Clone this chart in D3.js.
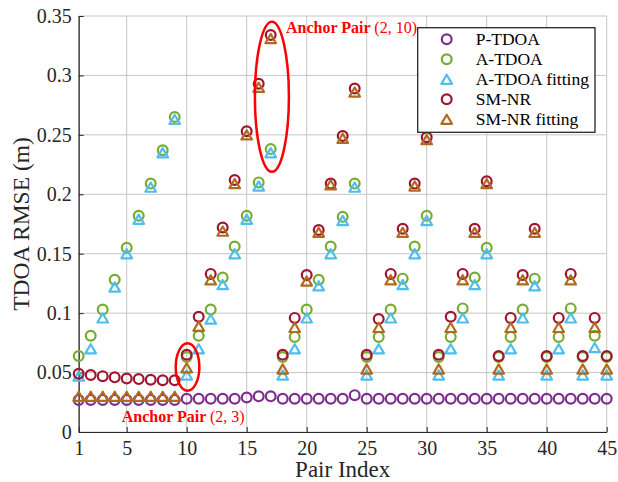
<!DOCTYPE html>
<html>
<head>
<meta charset="utf-8">
<script src="https://cdn.jsdelivr.net/npm/d3@7/dist/d3.min.js"></script>
<style>
  html, body { margin: 0; padding: 0; background: #fff; }
  svg { display: block; }
</style>
</head>
<body>
<svg id="chart" width="618" height="482"></svg>
<script>
// Pair index 1..45 (anchor pairs (1,2), (1,3), ..., (9,10))
const pairIndex = d3.range(1, 46);

const pTdoa = [
  0.027, 0.027, 0.027, 0.027, 0.027, 0.027, 0.027, 0.027, 0.027,
  0.028, 0.028, 0.028, 0.028, 0.028, 0.029, 0.030, 0.030,
  0.028, 0.028, 0.028, 0.028, 0.028, 0.028, 0.031,
  0.028, 0.028, 0.028, 0.028, 0.028, 0.028,
  0.028, 0.028, 0.028, 0.028, 0.028,
  0.028, 0.028, 0.028, 0.028,
  0.028, 0.028, 0.028,
  0.028, 0.028,
  0.028
];

const aTdoa = [
  0.064, 0.081, 0.103, 0.128, 0.155, 0.182, 0.209, 0.237, 0.265,
  0.063, 0.081, 0.103, 0.130, 0.156, 0.182, 0.210, 0.238,
  0.063, 0.080, 0.103, 0.128, 0.156, 0.181, 0.209,
  0.063, 0.080, 0.103, 0.129, 0.156, 0.182,
  0.063, 0.080, 0.104, 0.130, 0.155,
  0.063, 0.080, 0.103, 0.129,
  0.063, 0.080, 0.104,
  0.063, 0.081,
  0.063
];

const aTdoaFit = [
  0.047, 0.070, 0.096, 0.122, 0.150, 0.179, 0.206, 0.235, 0.263,
  0.048, 0.070, 0.095, 0.124, 0.150, 0.179, 0.207, 0.235,
  0.048, 0.070, 0.096, 0.123, 0.150, 0.178, 0.206,
  0.048, 0.070, 0.096, 0.124, 0.150, 0.178,
  0.048, 0.070, 0.096, 0.124, 0.150,
  0.048, 0.070, 0.096, 0.123,
  0.048, 0.070, 0.096,
  0.048, 0.071,
  0.048
];

const smNr = [
  0.049, 0.048, 0.047, 0.046, 0.045, 0.0445, 0.044, 0.0435, 0.0435,
  0.065, 0.097, 0.133, 0.172, 0.212, 0.253, 0.293, 0.334,
  0.065, 0.096, 0.132, 0.170, 0.209, 0.249, 0.289,
  0.065, 0.095, 0.133, 0.171, 0.209, 0.248,
  0.065, 0.097, 0.133, 0.171, 0.211,
  0.064, 0.096, 0.132, 0.171,
  0.064, 0.096, 0.133,
  0.064, 0.096,
  0.064
];

const smNrFit = [
  0.030, 0.030, 0.030, 0.030, 0.030, 0.030, 0.030, 0.030, 0.030,
  0.054, 0.089, 0.128, 0.169, 0.209, 0.250, 0.290, 0.331,
  0.053, 0.088, 0.127, 0.168, 0.208, 0.247, 0.286,
  0.053, 0.088, 0.128, 0.168, 0.207, 0.246,
  0.053, 0.088, 0.128, 0.168, 0.209,
  0.053, 0.088, 0.128, 0.168,
  0.053, 0.088, 0.128,
  0.053, 0.088,
  0.053
];

const xTicks = [1, 5, 10, 15, 20, 25, 30, 35, 40, 45];
const yTicks = [0, 0.05, 0.1, 0.15, 0.2, 0.25, 0.3, 0.35];
const yTickLabels = ["0", "0.05", "0.1", "0.15", "0.2", "0.25", "0.3", "0.35"];

const seriesNames = ["P-TDOA", "A-TDOA", "A-TDOA fitting", "SM-NR", "SM-NR fitting"];
const seriesColors = ["#7E2F8E", "#77AC30", "#4DBEEE", "#A2142F", "#B06A1E"];
const seriesShapes = ["circle", "circle", "triangle", "circle", "triangle"];
const seriesValues = [pTdoa, aTdoa, aTdoaFit, smNr, smNrFit];

const serif = "'Liberation Serif', Tinos, 'Nimbus Roman', 'Times New Roman', Times, 'DejaVu Serif', serif";

// ---- layout ----
const svg = d3.select("#chart");
const plotLeft = 78.7, plotRight = 606.7, plotTop = 16, plotBottom = 432;

const x = d3.scaleLinear().domain([1, 45]).range([plotLeft, plotRight]);
const y = d3.scaleLinear().domain([0, 0.35]).range([plotBottom, plotTop]);

svg.append("rect").attr("width", 618).attr("height", 482).attr("fill", "#fff");

// grid
const grid = svg.append("g").attr("stroke", "#c6c6c6").attr("stroke-width", 1);
grid.selectAll("line.gx").data(xTicks).join("line")
  .attr("class", "gx")
  .attr("x1", d => x(d)).attr("x2", d => x(d))
  .attr("y1", plotTop).attr("y2", plotBottom);
grid.selectAll("line.gy").data(yTicks).join("line")
  .attr("class", "gy")
  .attr("x1", plotLeft).attr("x2", plotRight)
  .attr("y1", d => y(d)).attr("y2", d => y(d));

// axes
const axisColor = "#262626";
const xAxis = svg.append("g")
  .attr("transform", `translate(0,${plotBottom})`)
  .call(d3.axisBottom(x).tickValues(xTicks).tickFormat(d3.format("d"))
    .tickSizeInner(-5).tickSizeOuter(0).tickPadding(8.5));
const yAxis = svg.append("g")
  .attr("transform", `translate(${plotLeft},0)`)
  .call(d3.axisLeft(y).tickValues(yTicks).tickFormat((d, i) => yTickLabels[i])
    .tickSizeInner(-5).tickSizeOuter(0).tickPadding(7));
[xAxis, yAxis].forEach(g => {
  g.attr("font-family", serif).attr("font-size", 20);
  g.select(".domain").attr("stroke", axisColor).attr("stroke-width", 1.2);
  g.selectAll(".tick line").attr("stroke", axisColor).attr("stroke-width", 1);
  g.selectAll(".tick text").attr("fill", "#262626");
});

// axis titles
svg.append("text")
  .attr("x", (plotLeft + plotRight) / 2).attr("y", 477)
  .attr("text-anchor", "middle")
  .attr("fill", "#262626")
  .attr("font-family", serif).attr("font-size", 23)
  .text("Pair Index");
svg.append("text")
  .attr("transform", `translate(29,${(plotTop + plotBottom) / 2}) rotate(-90)`)
  .attr("text-anchor", "middle")
  .attr("fill", "#262626")
  .attr("font-family", serif).attr("font-size", 23.5)
  .text("TDOA RMSE (m)");

// markers
const markerR = 4.9;
const triW = 10.6, triH = 9.2;
function triPath(cx, cy) {
  return `M${cx},${cy - triH / 2}L${cx + triW / 2},${cy + triH / 2}L${cx - triW / 2},${cy + triH / 2}Z`;
}

seriesValues.forEach((vals, s) => {
  const g = svg.append("g")
    .attr("fill", "none")
    .attr("stroke", seriesColors[s])
    .attr("stroke-width", 2.2)
    .attr("stroke-linejoin", "round");
  const pts = pairIndex.map((p, i) => ({ p, v: vals[i] }));
  if (seriesShapes[s] === "circle") {
    g.selectAll("circle").data(pts).join("circle")
      .attr("cx", d => x(d.p)).attr("cy", d => y(d.v)).attr("r", markerR);
  } else {
    g.selectAll("path").data(pts).join("path")
      .attr("d", d => triPath(x(d.p), y(d.v)));
  }
});

// annotations
const ann = svg.append("g");
ann.append("ellipse")
  .attr("cx", x(17.1)).attr("cy", y(0.282))
  .attr("rx", 17).attr("ry", 75)
  .attr("fill", "none").attr("stroke", "#ff0000").attr("stroke-width", 2.5);
ann.append("ellipse")
  .attr("cx", x(10.07)).attr("cy", y(0.0547))
  .attr("rx", 11.8).attr("ry", 23.7)
  .attr("fill", "none").attr("stroke", "#ff0000").attr("stroke-width", 2.5);

function anchorLabel(tx, ty, pair) {
  const t = ann.append("text")
    .attr("x", tx).attr("y", ty)
    .attr("fill", "#ff0000")
    .attr("font-family", serif).attr("font-size", 16);
  t.append("tspan").attr("font-weight", "bold").text("Anchor Pair ");
  t.append("tspan").attr("font-weight", "normal").text(pair);
}
anchorLabel(286, 33.3, "(2, 10)");
anchorLabel(121.7, 421.7, "(2, 3)");

// legend
const lg = svg.append("g");
lg.append("rect")
  .attr("x", 417.7).attr("y", 27.7)
  .attr("width", 177.3).attr("height", 104.6)
  .attr("fill", "#fff").attr("stroke", "#262626").attr("stroke-width", 1.3);
seriesNames.forEach((name, s) => {
  const cy = 39.3 + s * 20;
  const g = lg.append("g")
    .attr("fill", "none")
    .attr("stroke", seriesColors[s])
    .attr("stroke-width", 2.2)
    .attr("stroke-linejoin", "round");
  if (seriesShapes[s] === "circle") {
    g.append("circle").attr("cx", 446.7).attr("cy", cy).attr("r", markerR);
  } else {
    g.append("path").attr("d", triPath(446.7, cy));
  }
  lg.append("text")
    .attr("x", 475.7).attr("y", cy)
    .attr("dy", "0.33em")
    .attr("fill", "#000")
    .attr("font-family", serif).attr("font-size", 17.5)
    .text(name);
});
</script>
</body>
</html>
